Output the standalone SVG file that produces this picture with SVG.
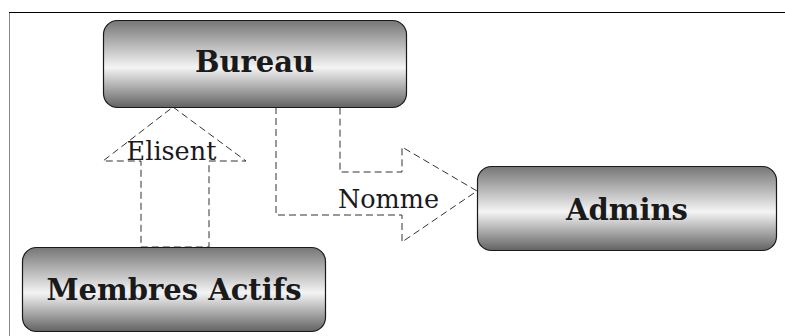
<svg xmlns="http://www.w3.org/2000/svg" width="785" height="336" viewBox="0 0 785 336">
  <defs>
    <linearGradient id="g" x1="0" y1="0" x2="0" y2="1">
      <stop offset="0" stop-color="#767676"/>
      <stop offset="0.54" stop-color="#f4f4f4"/>
      <stop offset="1" stop-color="#626262"/>
    </linearGradient>
  </defs>
  <style>
    .box { fill: url(#g); stroke: #1a1a1a; stroke-width: 1.2; }
    .lbl { font-family: "DejaVu Serif", serif; font-weight: bold; font-size: 29px; fill: #1a1a1a; text-anchor: middle; }
    .conn { fill: none; stroke: #333; stroke-width: 1; stroke-dasharray: 7 4; }
    .clbl { font-family: "DejaVu Serif", serif; font-size: 25.5px; fill: #1a1a1a; text-anchor: middle; }
  </style>
  <rect width="785" height="336" fill="#fff"/>
  <line x1="9.5" y1="12" x2="9.5" y2="336" stroke="#888" stroke-width="1"/>
  <line x1="9" y1="12.5" x2="785" y2="12.5" stroke="#000" stroke-width="1"/>
  <g id="connectors">
    <polygon class="conn" points="173,107 246,161 209,161 209,247 141,247 141,161 103,161"/>
    <polygon class="conn" points="276,107 276,215 402,215 402,242 477,191 402,147 402,172 340,172 340,107"/>
    <text class="clbl" x="171.5" y="160">Elisent</text>
    <text class="clbl" x="388.5" y="208">Nomme</text>
  </g>
  <g id="bureau">
    <rect class="box" x="103.5" y="20.5" width="303" height="87" rx="14"/>
    <text class="lbl" x="254.5" y="72">Bureau</text>
  </g>
  <g id="membres">
    <rect class="box" x="22.5" y="247.5" width="303" height="84" rx="14"/>
    <text class="lbl" x="174" y="300">Membres Actifs</text>
  </g>
  <g id="admins">
    <rect class="box" x="477.5" y="166.5" width="299" height="84" rx="14"/>
    <text class="lbl" x="627" y="220">Admins</text>
  </g>
</svg>
